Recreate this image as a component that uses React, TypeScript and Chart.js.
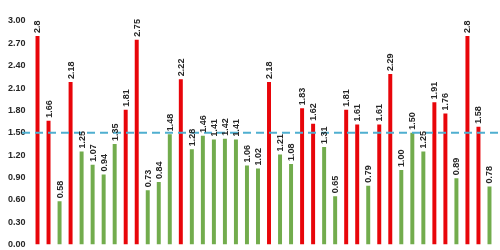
import React, { useEffect, useRef } from "react";
import { Chart, registerables } from "chart.js";

Chart.register(...registerables);

const categories: string[] = Array.from({ length: 42 }, (_, i) => String(i + 1));
const values: number[] = [
  2.8, 1.66, 0.58, 2.18, 1.25, 1.07, 0.94, 1.35, 1.81, 2.75,
  0.73, 0.84, 1.48, 2.22, 1.28, 1.46, 1.41, 1.42, 1.41, 1.06,
  1.02, 2.18, 1.21, 1.08, 1.83, 1.62, 1.31, 0.65, 1.81, 1.61,
  0.79, 1.61, 2.29, 1.0, 1.5, 1.25, 1.91, 1.76, 0.89, 2.8,
  1.58, 0.78,
];
const valueLabels: string[] = [
  "2.8", "1.66", "0.58", "2.18", "1.25", "1.07", "0.94", "1.35", "1.81", "2.75",
  "0.73", "0.84", "1.48", "2.22", "1.28", "1.46", "1.41", "1.42", "1.41", "1.06",
  "1.02", "2.18", "1.21", "1.08", "1.83", "1.62", "1.31", "0.65", "1.81", "1.61",
  "0.79", "1.61", "2.29", "1.00", "1.50", "1.25", "1.91", "1.76", "0.89", "2.8",
  "1.58", "0.78",
];
const threshold = 1.5;
const yMin = 0;
const yMax = 3.0;
const yStep = 0.3;

const RED = "#E8050A";
const GREEN = "#72AC4D";
const LINE = "#4FAFD0";

const labelPlugin = {
  id: "valueLabels",
  afterDatasetsDraw(chart: any) {
    const ctx = chart.ctx;
    const meta = chart.getDatasetMeta(0);
    ctx.save();
    ctx.font = "bold 9px 'Liberation Sans', Arial, sans-serif";
    ctx.fillStyle = "#262626";
    ctx.textAlign = "left";
    ctx.textBaseline = "middle";
    meta.data.forEach((bar: any, i: number) => {
      ctx.save();
      ctx.translate(bar.x + 0.5, bar.y - 3);
      ctx.rotate(-Math.PI / 2);
      ctx.fillText(valueLabels[i], 0, 0);
      ctx.restore();
    });
    ctx.restore();
  },
};

const thresholdPlugin = {
  id: "thresholdLine",
  afterDatasetsDraw(chart: any) {
    const ctx = chart.ctx;
    const y = chart.scales.y.getPixelForValue(threshold);
    ctx.save();
    ctx.strokeStyle = LINE;
    ctx.lineWidth = 2;
    ctx.setLineDash([8, 5]);
    ctx.beginPath();
    ctx.moveTo(22, y);
    ctx.lineTo(chart.width, y);
    ctx.stroke();
    ctx.restore();
  },
};

export default function App() {
  const ref = useRef<HTMLCanvasElement>(null);
  useEffect(() => {
    document.body.style.margin = "0";
    const chart = new Chart(ref.current!, {
      type: "bar",
      data: {
        labels: categories,
        datasets: [
          {
            data: values,
            backgroundColor: values.map((v) => (v > threshold ? RED : GREEN)),
            categoryPercentage: 1,
            barPercentage: 0.36,
          },
        ],
      },
      options: {
        animation: false,
        responsive: false,
        maintainAspectRatio: false,
        layout: { padding: { top: 21, right: 5, bottom: 4, left: 8 } },
        plugins: { legend: { display: false }, tooltip: { enabled: false }, title: { display: false } },
        scales: {
          x: {
            display: false,
          },
          y: {
            min: yMin,
            max: yMax,
            grid: { display: false, drawTicks: false },
            border: { display: false },
            afterFit: (s: any) => {
              s.width = 24;
            },
            ticks: {
              stepSize: yStep,
              padding: 0,
              crossAlign: "far",
              color: "#262626",
              font: { family: "'Liberation Sans', Arial, sans-serif", size: 9, weight: "bold" },
              callback: (v: any) => Number(v).toFixed(2),
            },
          },
        },
      },
      plugins: [thresholdPlugin, labelPlugin],
    });
    return () => chart.destroy();
  }, []);
  return <canvas ref={ref} width={500} height={250} style={{ display: "block" }} />;
}
